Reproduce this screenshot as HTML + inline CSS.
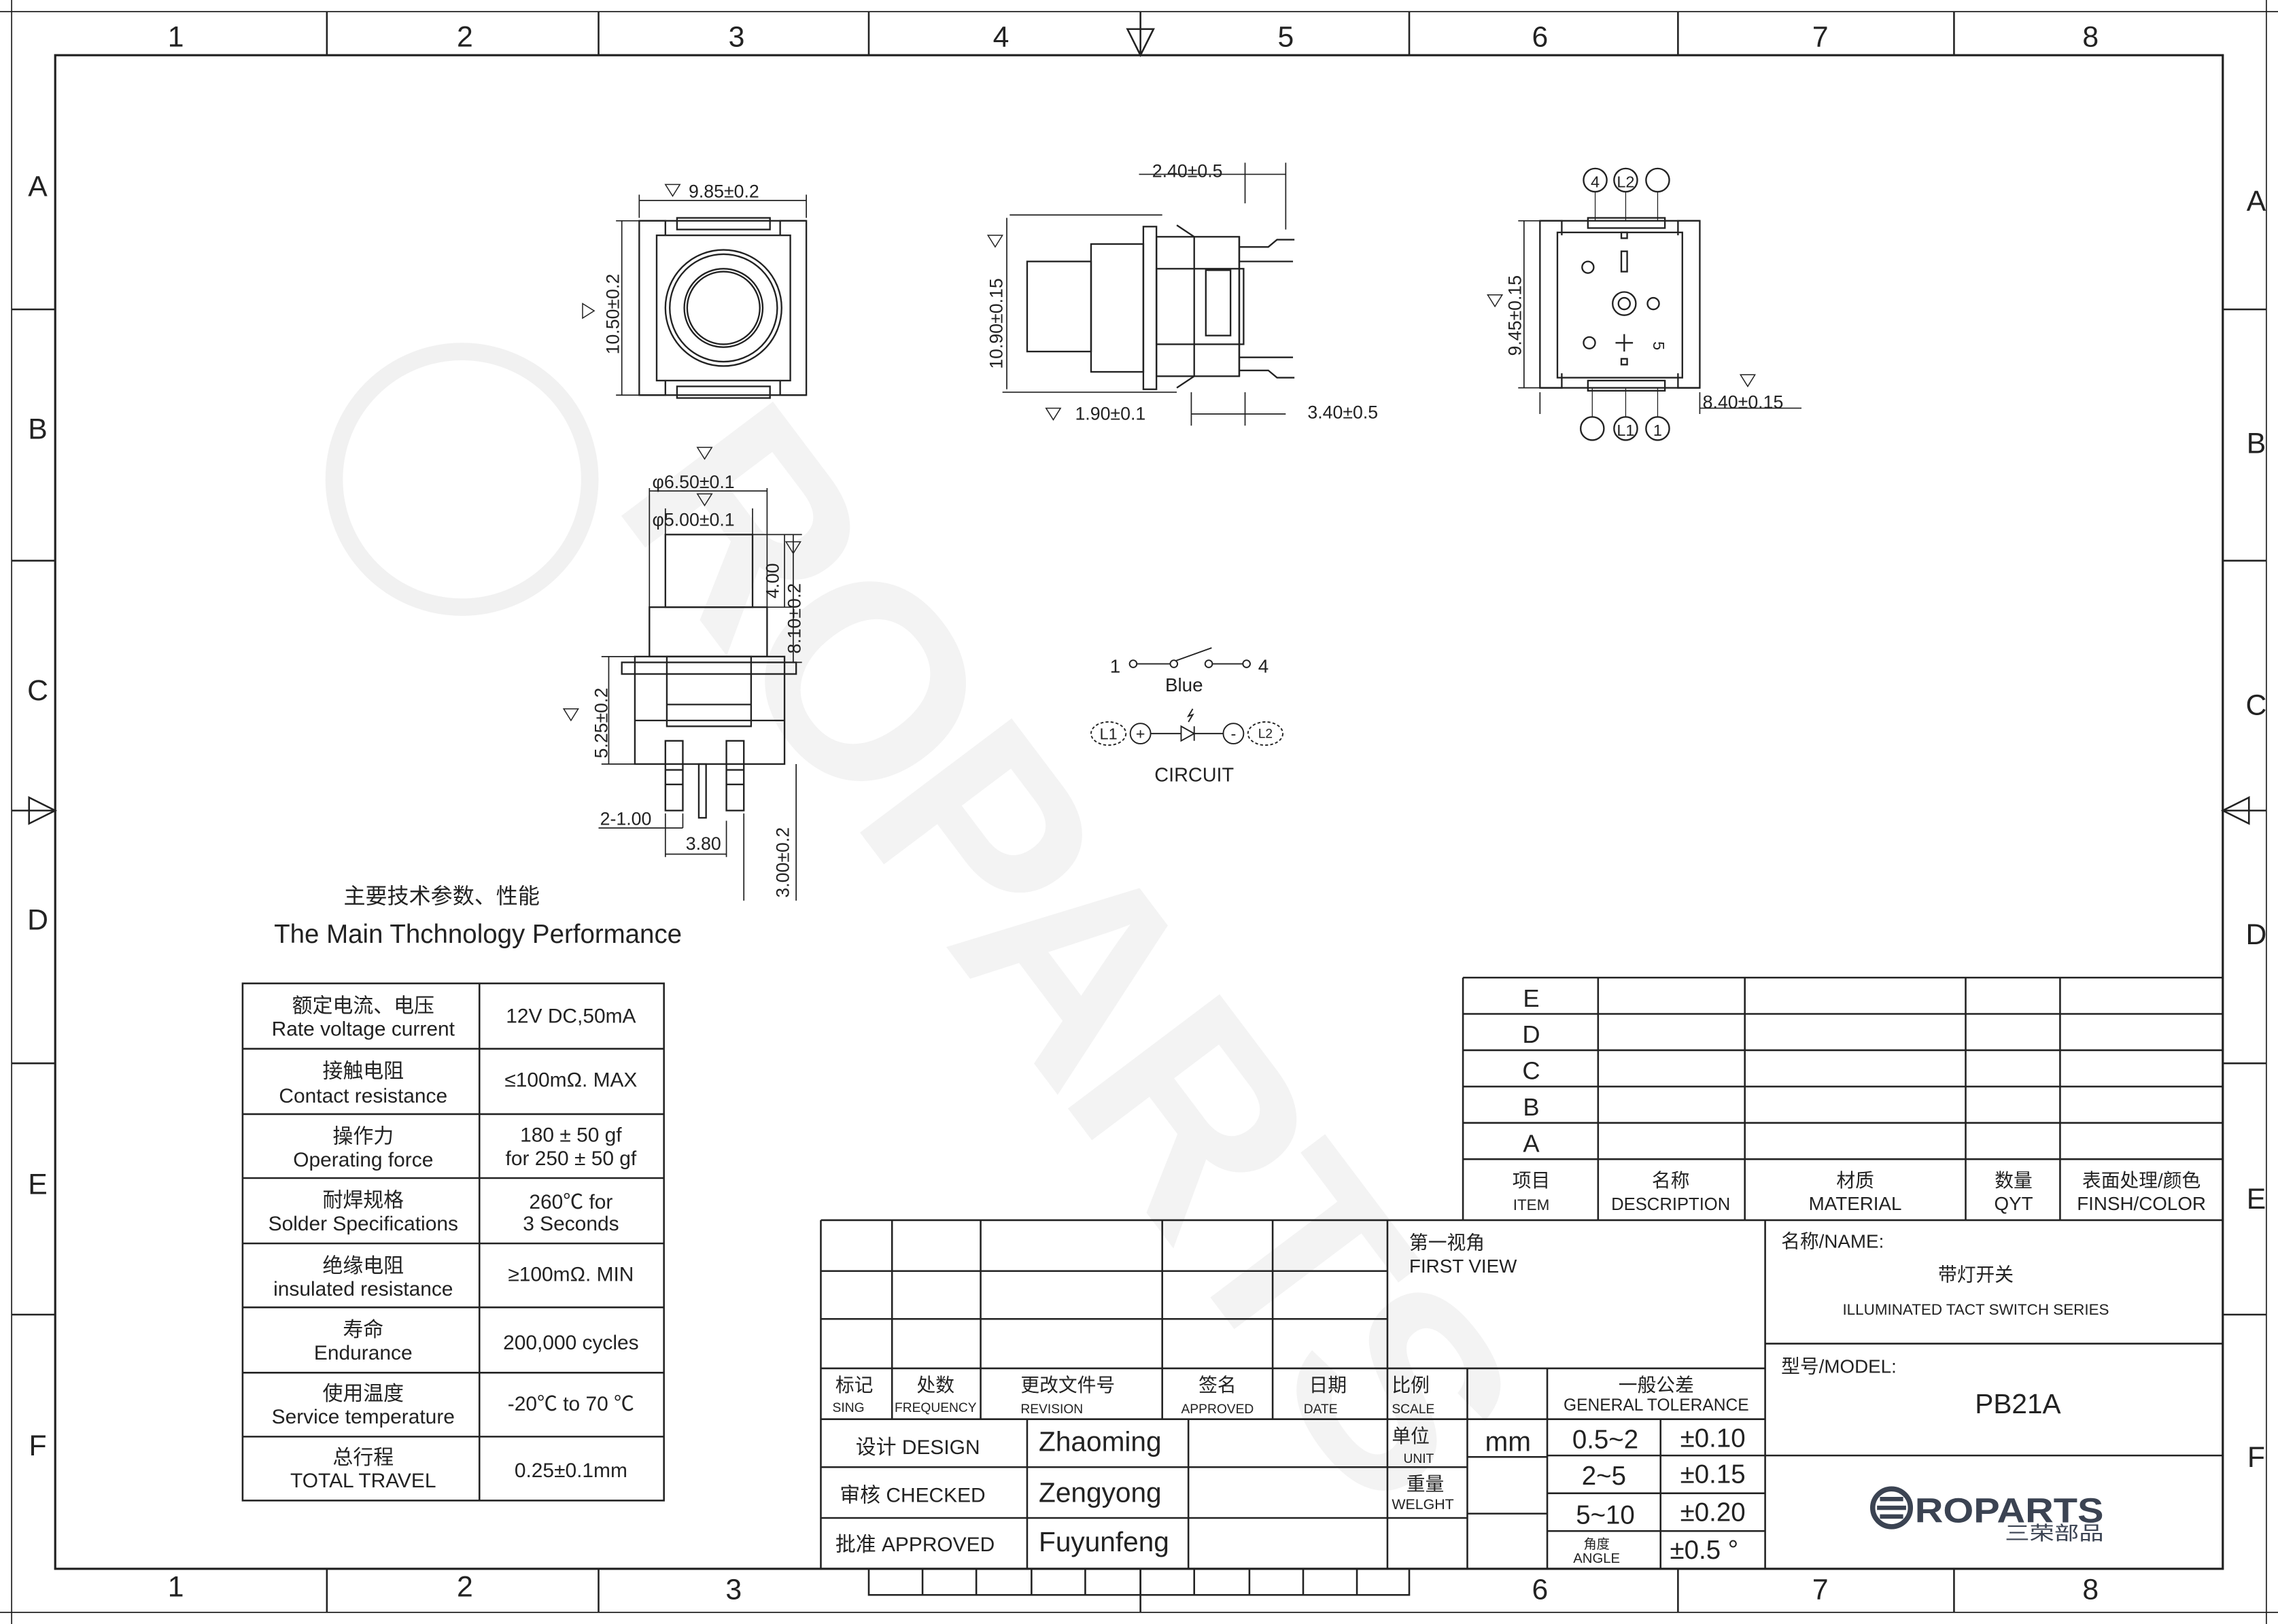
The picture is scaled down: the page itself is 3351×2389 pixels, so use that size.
<!DOCTYPE html>
<html><head><meta charset="utf-8"><style>
html,body{margin:0;padding:0;background:#fff;overflow:hidden}
svg{display:block;overflow:hidden}
text{font-family:"Liberation Sans","Noto Sans CJK SC",sans-serif;fill:#222}
</style></head><body>
<svg width="3351" height="2389" viewBox="0 0 1568 1118" preserveAspectRatio="none" xmlns="http://www.w3.org/2000/svg">
<rect width="1568" height="1118" fill="#fff"/>
<!-- watermark -->
<g>
<circle cx="318" cy="330" r="88" fill="none" stroke="#f1f1f1" stroke-width="12"/>
<text x="0" y="0" transform="translate(420,345) rotate(53)" font-size="190" font-weight="bold" style="fill:#f3f3f3" letter-spacing="-6">ROPARTS</text>
</g>
<g fill="none" stroke="#222" stroke-width="1.2">
<line x1="0" y1="8" x2="1568" y2="8" stroke-width="0.8"/>
<line x1="0" y1="1110" x2="1568" y2="1110" stroke-width="0.8"/>
<line x1="8" y1="0" x2="8" y2="1118" stroke-width="0.8"/>
<line x1="1560" y1="0" x2="1560" y2="1118" stroke-width="0.8"/>
<rect x="38" y="38" width="1492" height="1042" stroke-width="1.5"/>
<path d="M225 8V38M412 8V38M598 8V38M970 8V38M1155 8V38M1345 8V38M225 1080V1110M412 1080V1110M1155 1080V1110M1345 1080V1110"/>
<path d="M8 213H38M8 386H38M8 732H38M8 905H38M1530 213H1560M1530 386H1560M1530 732H1560M1530 905H1560"/>
<path d="M776 20L785 38L794 20Z M785 8V38"/>
<path d="M20 549L38 558L20 567Z M8 558H38"/>
<path d="M1548 549L1530 558L1548 567Z M1530 558H1560"/>
<path d="M785 1080V1110"/>
<path d="M598 1080V1098H970V1080 M635 1080V1098 M672 1080V1098 M710 1080V1098 M747 1080V1098 M785 1080V1098 M822 1080V1098 M860 1080V1098 M897 1080V1098 M934 1080V1098"/>
</g>
<g font-size="20" text-anchor="middle">
<text x="121" y="32">1</text><text x="320" y="32">2</text><text x="507" y="32">3</text><text x="689" y="32">4</text><text x="885" y="32">5</text><text x="1060" y="32">6</text><text x="1253" y="32">7</text><text x="1439" y="32">8</text>
<text x="121" y="1099">1</text><text x="320" y="1099">2</text><text x="505" y="1101">3</text><text x="1060" y="1101">6</text><text x="1253" y="1101">7</text><text x="1439" y="1101">8</text>
<text x="26" y="135">A</text><text x="26" y="302">B</text><text x="26" y="482">C</text><text x="26" y="640">D</text><text x="26" y="822">E</text><text x="26" y="1002">F</text>
<text x="1553" y="145">A</text><text x="1553" y="312">B</text><text x="1553" y="492">C</text><text x="1553" y="650">D</text><text x="1553" y="832">E</text><text x="1553" y="1010">F</text>
</g>

<!-- FRONT VIEW -->
<g fill="none" stroke="#222" stroke-width="1.1">
<rect x="440" y="152" width="115" height="120"/>
<rect x="452" y="162" width="92" height="100"/>
<path d="M440 152h18v10M555 152h-18v10M440 272h18v-10M555 272h-18v-10"/>
<rect x="466" y="150" width="64" height="8"/><rect x="466" y="266" width="64" height="8"/>
<circle cx="498" cy="212" r="40"/><circle cx="498" cy="212" r="37"/><circle cx="498" cy="212" r="27"/><circle cx="498" cy="212" r="25"/>
<path d="M440 138H555 M440 134V150 M555 134V150 M428 152V272 M424 152H440 M424 272H440" stroke-width="0.8"/>
</g>
<text x="474" y="136" font-size="12.5">9.85±0.2</text>
<text x="426" y="244" font-size="12.5" transform="rotate(-90 426 244)">10.50±0.2</text>
<path d="M458 127h10l-5 8z M401 209v10l8-5z" fill="none" stroke="#222" stroke-width="0.7"/>

<!-- SIDE VIEW -->
<g fill="none" stroke="#222" stroke-width="1.1">
<rect x="707" y="180" width="44" height="62"/>
<rect x="751" y="168" width="36" height="88"/>
<rect x="787" y="156" width="9" height="112"/>
<rect x="796" y="163" width="57" height="96"/>
<rect x="796" y="185" width="60" height="52"/>
<rect x="830" y="186" width="17" height="45"/>
<path d="M853 163V259 M822 163V259 M853 170h20l6 -5h12 M853 180h37 M853 246h37 M853 255h20l6 5h12 M822 163l-12-8 M822 259l-12 8"/>
<path d="M695 148H800 M690 270H810 M693 150V268 M784 120H885 M857 112V140 M885 112V158 M820 285H885 M820 270V293 M857 270V293" stroke-width="0.8"/>
</g>
<text x="793" y="122" font-size="12.5">2.40±0.5</text>
<text x="740" y="289" font-size="12.5">1.90±0.1</text>
<text x="900" y="288" font-size="12.5">3.40±0.5</text>
<text x="690" y="254" font-size="12.5" transform="rotate(-90 690 254)">10.90±0.15</text>
<path d="M720 281h10l-5 8z M680 162h10l-5 8z" fill="none" stroke="#222" stroke-width="0.7"/>

<!-- REAR VIEW -->
<g fill="none" stroke="#222" stroke-width="1.1">
<rect x="1060" y="152" width="110" height="115"/>
<rect x="1072" y="160" width="86" height="100"/>
<path d="M1060 152h15v10M1170 152h-15v10M1060 267h15v-10M1170 267h-15v-10"/>
<rect x="1093" y="150" width="53" height="7"/><rect x="1093" y="262" width="53" height="7"/>
<circle cx="1093" cy="184" r="4"/><circle cx="1138" cy="209" r="4"/><circle cx="1094" cy="236" r="4"/>
<circle cx="1118" cy="209" r="8"/><circle cx="1118" cy="209" r="4"/>
<rect x="1116" y="173" width="4" height="14"/>
<path d="M1118 230V242M1112 236H1124"/>
<rect x="1116" y="160" width="4" height="4"/><rect x="1116" y="247" width="4" height="4"/>
<circle cx="1098" cy="124" r="8"/><circle cx="1119" cy="124" r="8"/><circle cx="1141" cy="124" r="8"/>
<circle cx="1096" cy="295" r="8"/><circle cx="1119" cy="295" r="8"/><circle cx="1141" cy="295" r="8"/>
<path d="M1098 132V152M1119 132V152M1141 132V152M1096 267V287M1119 267V287M1141 267V287" stroke-width="0.6"/>
<path d="M1045 152H1062 M1045 267H1062 M1049 152V267 M1170 270V285 M1060 270V285 M1170 281H1240" stroke-width="0.8"/>
</g>
<text x="1098" y="129" font-size="11" text-anchor="middle">4</text><text x="1119" y="129" font-size="11" text-anchor="middle">L2</text>
<text x="1119" y="300" font-size="11" text-anchor="middle">L1</text><text x="1141" y="300" font-size="11" text-anchor="middle">1</text>
<text x="1138" y="235" font-size="11" transform="rotate(90 1138 235)">5</text>
<text x="1047" y="245" font-size="12.5" transform="rotate(-90 1047 245)">9.45±0.15</text>
<text x="1172" y="281" font-size="12.5">8.40±0.15</text>
<path d="M1024 203h10l-5 8z M1198 258h10l-5 8z" fill="none" stroke="#222" stroke-width="0.7"/>

<!-- BOTTOM-LEFT SIDE VIEW -->
<g fill="none" stroke="#222" stroke-width="1.1">
<rect x="458" y="368" width="60" height="50"/>
<rect x="447" y="418" width="81" height="34"/>
<rect x="428" y="456" width="120" height="8"/>
<rect x="437" y="452" width="103" height="74"/>
<rect x="459" y="452" width="58" height="48"/>
<path d="M437 496H540 M459 485H517"/>
<rect x="458" y="510" width="12" height="48"/><rect x="500" y="510" width="12" height="48"/>
<path d="M458 530h12M500 530h12M458 540h12M500 540h12"/>
<rect x="481" y="526" width="5" height="37"/>
<path d="M447 338H528 M447 336V418 M458 350V368 M518 350V368 M528 336V418 M518 368H545 M518 418H545 M540 368V418 M546 368V456 M536 368H552 M540 456H552 M419 452V526 M414 452H437 M414 526H437 M548 526V620 M512 560V620 M470 560V570 M458 560V570 M458 588H500 M412 570H470 M458 570V590 M500 565V590" stroke-width="0.8"/>
</g>
<text x="449" y="336" font-size="12.5">φ6.50±0.1</text>
<text x="449" y="362" font-size="12.5">φ5.00±0.1</text>
<text x="536" y="412" font-size="12.5" transform="rotate(-90 536 412)">4.00</text>
<text x="551" y="450" font-size="12.5" transform="rotate(-90 551 450)">8.10±0.2</text>
<text x="418" y="522" font-size="12.5" transform="rotate(-90 418 522)">5.25±0.2</text>
<text x="543" y="618" font-size="12.5" transform="rotate(-90 543 618)">3.00±0.2</text>
<text x="413" y="568" font-size="12.5">2-1.00</text>
<text x="472" y="585" font-size="12.5">3.80</text>
<path d="M480 308h10l-5 8z M480 340h10l-5 8z M541 373h10l-5 8z M388 488h10l-5 8z" fill="none" stroke="#222" stroke-width="0.7"/>

<!-- CIRCUIT -->
<g fill="none" stroke="#222" stroke-width="0.9">
<circle cx="780" cy="457" r="2.5"/><circle cx="808" cy="457" r="2.5"/><circle cx="832" cy="457" r="2.5"/><circle cx="858" cy="457" r="2.5"/>
<path d="M782 457H806 M834 457H856 M809 455L834 446"/>
<ellipse cx="763" cy="505" rx="12" ry="8" stroke-dasharray="2 1.5"/>
<circle cx="785" cy="505" r="7"/>
<path d="M792 505H813 M813 500V510L822 505Z M822 500V510 M822 505H842"/>
<circle cx="849" cy="505" r="7"/>
<ellipse cx="871" cy="505" rx="12" ry="8" stroke-dasharray="2 1.5"/>
<path d="M818 497l3-5-3 1 3-5"/>
</g>
<text x="764" y="463" font-size="13">1</text><text x="866" y="463" font-size="13">4</text>
<text x="815" y="476" font-size="13" text-anchor="middle">Blue</text>
<text x="763" y="509" font-size="11" text-anchor="middle">L1</text><text x="785" y="509" font-size="11" text-anchor="middle">+</text>
<text x="849" y="509" font-size="11" text-anchor="middle">-</text><text x="871" y="508" font-size="9" text-anchor="middle">L2</text>
<text x="822" y="538" font-size="13.5" text-anchor="middle">CIRCUIT</text>

<!-- SPEC TABLE -->
<text x="304" y="622" font-size="15" text-anchor="middle">主要技术参数、性能</text>
<text x="329" y="649" font-size="18" text-anchor="middle">The Main Thchnology Performance</text>
<g fill="none" stroke="#222" stroke-width="1.2">
<rect x="167" y="677" width="290" height="356"/>
<path d="M330 677V1033 M167 722H457 M167 767H457 M167 811H457 M167 856H457 M167 900H457 M167 945H457 M167 989H457"/>
</g>
<g font-size="14" text-anchor="middle">
<text x="250" y="697">额定电流、电压</text><text x="250" y="713">Rate voltage current</text><text x="393" y="704">12V DC,50mA</text>
<text x="250" y="742">接触电阻</text><text x="250" y="759">Contact resistance</text><text x="393" y="748">≤100mΩ. MAX</text>
<text x="250" y="787">操作力</text><text x="250" y="803">Operating  force</text><text x="393" y="786">180 ± 50 gf</text><text x="393" y="802">for 250 ± 50 gf</text>
<text x="250" y="831">耐焊规格</text><text x="250" y="847">Solder Specifications</text><text x="393" y="832">260℃ for</text><text x="393" y="847">3 Seconds</text>
<text x="250" y="876">绝缘电阻</text><text x="250" y="892">insulated resistance</text><text x="393" y="882">≥100mΩ. MIN</text>
<text x="250" y="920">寿命</text><text x="250" y="936">Endurance</text><text x="393" y="929">200,000 cycles</text>
<text x="250" y="964">使用温度</text><text x="250" y="980">Service temperature</text><text x="393" y="971">-20℃ to 70 ℃</text>
<text x="250" y="1008">总行程</text><text x="250" y="1024">TOTAL TRAVEL</text><text x="393" y="1017">0.25±0.1mm</text>
</g>

<!-- REVISION TABLE -->
<g fill="none" stroke="#222" stroke-width="1.2">
<path d="M1007 673H1530 M1007 698H1530 M1007 723H1530 M1007 748H1530 M1007 773H1530 M1007 798H1530 M1007 673V840 M1100 673V840 M1201 673V840 M1353 673V840 M1418 673V840"/>
</g>
<g text-anchor="middle">
<text x="1054" y="693" font-size="17">E</text><text x="1054" y="718" font-size="17">D</text><text x="1054" y="743" font-size="17">C</text><text x="1054" y="768" font-size="17">B</text><text x="1054" y="793" font-size="17">A</text>
<text x="1054" y="817" font-size="13">项目</text><text x="1054" y="833" font-size="10.5">ITEM</text>
<text x="1150" y="817" font-size="13">名称</text><text x="1150" y="833" font-size="12">DESCRIPTION</text>
<text x="1277" y="817" font-size="13">材质</text><text x="1277" y="833" font-size="13">MATERIAL</text>
<text x="1386" y="817" font-size="13">数量</text><text x="1386" y="833" font-size="13">QYT</text>
<text x="1474" y="817" font-size="13">表面处理/颜色</text><text x="1474" y="833" font-size="13">FINSH/COLOR</text>
</g>

<!-- TITLE BLOCK -->
<g fill="none" stroke="#222" stroke-width="1.2">
<path d="M565 840H1530 M565 840V1080 M565 875H955 M565 908H955 M565 942H1215 M565 977H1215 M955 840V1080 M1215 840V1080"/>
<path d="M614 840V977 M675 840V977 M800 840V977 M876 840V977"/>
<path d="M565 1010H1010 M565 1045H1010 M707 977V1080 M818 977V1080"/>
<path d="M1010 942V1080 M1065 942V1080 M1010 1003H1065 M1010 1042H1065 M1065 1002H1215 M1065 1028H1215 M1065 1054H1215 M1143 977V1080"/>
<path d="M1215 925H1530 M1215 1002H1530"/>
</g>
<g font-size="13">
<text x="588" y="958" text-anchor="middle">标记</text><text x="584" y="972" font-size="9" text-anchor="middle">SING</text>
<text x="644" y="958" text-anchor="middle">处数</text><text x="644" y="972" font-size="9" text-anchor="middle">FREQUENCY</text>
<text x="735" y="958" text-anchor="middle">更改文件号</text><text x="724" y="973" font-size="9" text-anchor="middle">REVISION</text>
<text x="838" y="958" text-anchor="middle">签名</text><text x="838" y="973" font-size="9" text-anchor="middle">APPROVED</text>
<text x="914" y="958" text-anchor="middle">日期</text><text x="909" y="973" font-size="9" text-anchor="middle">DATE</text>
<text x="958" y="958">比例</text><text x="958" y="973" font-size="9">SCALE</text>
<text x="970" y="860">第一视角</text><text x="970" y="876">FIRST VIEW</text>
<text x="589" y="1001" font-size="14">设计 DESIGN</text>
<text x="578" y="1034" font-size="14">审核 CHECKED</text>
<text x="575" y="1068" font-size="14">批准 APPROVED</text>
<text x="715" y="999" font-size="19">Zhaoming</text>
<text x="715" y="1034" font-size="19">Zengyong</text>
<text x="715" y="1068" font-size="19">Fuyunfeng</text>
<text x="958" y="993">单位</text><text x="966" y="1007" font-size="9">UNIT</text>
<text x="968" y="1026">重量</text><text x="958" y="1039" font-size="10">WELGHT</text>
<text x="1038" y="999" font-size="19" text-anchor="middle">mm</text>
<text x="1140" y="958" text-anchor="middle">一般公差</text><text x="1140" y="971" font-size="11.5" text-anchor="middle">GENERAL TOLERANCE</text>
<text x="1105" y="997" font-size="18" text-anchor="middle">0.5~2</text><text x="1179" y="996" font-size="18" text-anchor="middle">±0.10</text>
<text x="1104" y="1022" font-size="18" text-anchor="middle">2~5</text><text x="1179" y="1021" font-size="18" text-anchor="middle">±0.15</text>
<text x="1105" y="1049" font-size="18" text-anchor="middle">5~10</text><text x="1179" y="1047" font-size="18" text-anchor="middle">±0.20</text>
<text x="1099" y="1066" font-size="9" text-anchor="middle">角度</text><text x="1099" y="1076" font-size="9.5" text-anchor="middle">ANGLE</text>
<text x="1173" y="1073" font-size="18" text-anchor="middle">±0.5 °</text>
<text x="1226" y="859">名称/NAME:</text>
<text x="1360" y="882" text-anchor="middle">带灯开关</text>
<text x="1360" y="905" font-size="10.5" text-anchor="middle">ILLUMINATED TACT SWITCH SERIES</text>
<text x="1226" y="945">型号/MODEL:</text>
<text x="1389" y="973" font-size="19" text-anchor="middle">PB21A</text>
</g>
<!-- logo -->
<circle cx="1302" cy="1038" r="13" fill="none" stroke="#3b4352" stroke-width="3.5"/>
<path d="M1294 1032h16M1292 1038h20M1294 1044h16" stroke="#3b4352" stroke-width="3"/>
<text x="1318" y="1048" font-size="24" font-weight="bold" style="fill:#3b4352" textLength="130" lengthAdjust="spacingAndGlyphs">ROPARTS</text>
<text x="1380" y="1060" font-size="13" style="fill:#3b4352" textLength="68" lengthAdjust="spacingAndGlyphs">三荣部品</text>
</svg>
</body></html>
